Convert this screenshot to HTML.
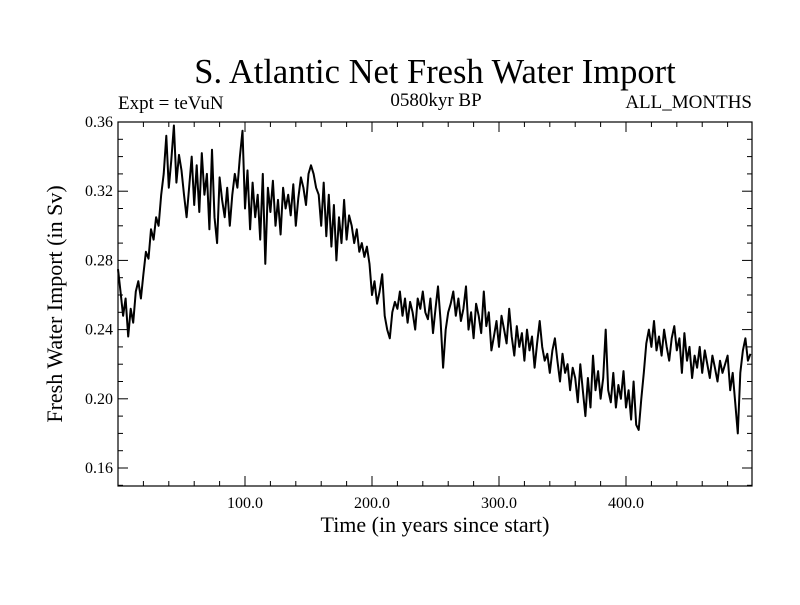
<!DOCTYPE html>
<html><head><meta charset="utf-8"><style>
body{margin:0;background:#fff}
svg text{font-family:"Liberation Serif",serif;fill:#000}
</style></head><body>
<svg id="chart" width="800" height="600">
<text x="435" y="83" font-size="34.5" text-anchor="middle">S. Atlantic Net Fresh Water Import</text>
<text x="118" y="109" font-size="19">Expt = teVuN</text>
<text x="436" y="106" font-size="19" text-anchor="middle">0580kyr BP</text>
<text x="752" y="108" font-size="19" text-anchor="end">ALL_MONTHS</text>
<text x="435" y="532" font-size="22" text-anchor="middle">Time (in years since start)</text>
<text transform="translate(62,304) rotate(-90)" font-size="22" text-anchor="middle">Fresh Water Import (in Sv)</text>
<g id="axes"></g>
<path id="line" fill="none" stroke="#000" stroke-width="2" stroke-linejoin="round"/>
<rect x="118" y="122" width="634" height="364" fill="none" stroke="#000" stroke-width="1.2"/>
</svg>
<script>
const yTicks=[0.16,0.20,0.24,0.28,0.32,0.36];
const yTickLabels=["0.16","0.20","0.24","0.28","0.32","0.36"];
const xTicks=[100,200,300,400];
const xTickLabels=["100.0","200.0","300.0","400.0"];
const years=[];for(let i=0;i<250;i++)years.push(i*2);
const values=[
.275,.262,.248,.258,.236,.252,.244,.262,.268,.258,
.272,.285,.281,.298,.292,.305,.300,.318,.330,.352,
.322,.338,.358,.325,.341,.332,.318,.305,.322,.340,
.312,.335,.308,.342,.318,.330,.298,.344,.305,.290,
.328,.315,.305,.322,.300,.318,.330,.322,.340,.355,
.310,.332,.298,.325,.305,.318,.292,.330,.278,.322,
.308,.326,.300,.315,.295,.322,.310,.318,.306,.324,
.300,.316,.328,.322,.312,.330,.335,.330,.322,.318,
.300,.325,.294,.318,.288,.312,.280,.305,.290,.315,
.292,.306,.300,.290,.298,.285,.290,.282,.288,.278,
.260,.268,.255,.262,.272,.248,.240,.235,.250,.256,
.252,.262,.248,.258,.244,.256,.250,.240,.258,.252,
.262,.250,.246,.258,.238,.252,.265,.245,.218,.240,
.250,.255,.262,.248,.258,.245,.252,.265,.240,.250,
.235,.255,.248,.238,.262,.242,.250,.228,.236,.245,
.230,.248,.240,.232,.252,.236,.225,.242,.230,.238,
.222,.240,.228,.236,.218,.232,.245,.230,.222,.226,
.215,.228,.235,.222,.210,.226,.215,.220,.205,.218,
.212,.198,.220,.205,.190,.212,.195,.225,.205,.216,
.200,.212,.240,.205,.198,.215,.195,.208,.200,.216,
.195,.205,.188,.210,.185,.182,.200,.215,.232,.240,
.230,.245,.228,.236,.225,.240,.230,.222,.235,.242,
.228,.235,.215,.238,.222,.230,.212,.225,.218,.230,
.215,.228,.220,.212,.225,.218,.210,.222,.215,.220,
.225,.205,.215,.198,.180,.215,.228,.235,.222,.226];
const X0=118,X1=752,Y0=486,Y1=122,xmin=0,xmax=499.2,ymin=0.1496,ymax=0.36;
const sx=v=>X0+(v-xmin)/(xmax-xmin)*(X1-X0);
const sy=v=>Y0-(v-ymin)/(ymax-ymin)*(Y0-Y1);
const NS="http://www.w3.org/2000/svg";
const ax=document.getElementById('axes');
function ln(x1,y1,x2,y2,name){const l=document.createElementNS(NS,'line');
l.setAttribute('x1',x1);l.setAttribute('y1',y1);l.setAttribute('x2',x2);l.setAttribute('y2',y2);
l.setAttribute('stroke','#000');l.setAttribute('stroke-width','1');


ax.appendChild(l);}
function tx(x,y,s,anchor,name){const t=document.createElementNS(NS,'text');
t.setAttribute('x',x);t.setAttribute('y',y);t.setAttribute('font-size','16');t.setAttribute('text-anchor',anchor);t.textContent=s;


ax.appendChild(t);}
for(let v=0.15;v<=0.3601;v+=0.01){const y=sy(v);const major=yTicks.some(t=>Math.abs(t-v)<1e-6);const L=major?10:5;
ln(X0,y,X0+L,y,'y-tick');ln(X1-L,y,X1,y,'y-tick-right');}
yTicks.forEach((v,i)=>tx(X0-5,sy(v)+5,yTickLabels[i],'end','y-tick-label'));
for(let v=20;v<=490;v+=20){const x=sx(v);const major=xTicks.includes(v);const L=major?10:5;
ln(x,Y0,x,Y0-L,'x-tick');ln(x,Y1,x,Y1+L,'x-tick-top');}
xTicks.forEach((v,i)=>tx(sx(v),Y0+22,xTickLabels[i],'middle','x-tick-label'));
let d='';years.forEach((yr,i)=>{d+=(i?'L':'M')+sx(yr).toFixed(1)+' '+sy(values[i]).toFixed(1);});
document.getElementById('line').setAttribute('d',d);
</script>
</body></html>
